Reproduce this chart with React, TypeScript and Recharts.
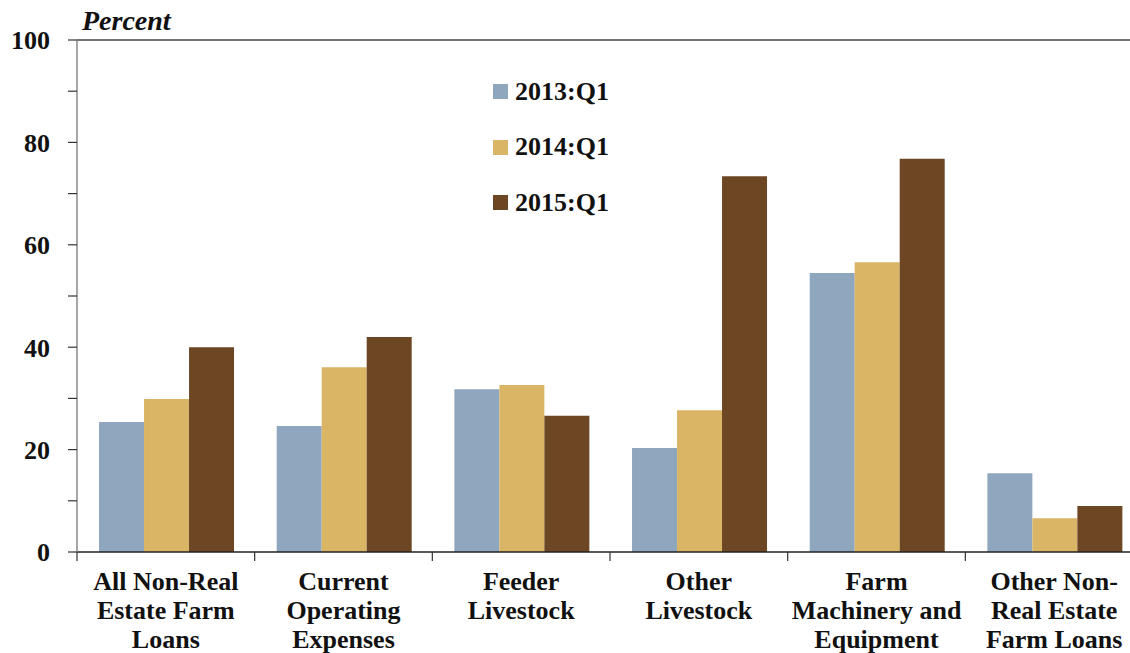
import React from 'react'
import { BarChart, Bar, XAxis, YAxis, ReferenceLine, Legend, Label } from 'recharts'

// category labels, one entry per line of the tick text
const categories = [
  ['All Non-Real', 'Estate Farm', 'Loans'],
  ['Current', 'Operating', 'Expenses'],
  ['Feeder', 'Livestock'],
  ['Other', 'Livestock'],
  ['Farm', 'Machinery and', 'Equipment'],
  ['Other Non-', 'Real Estate', 'Farm Loans'],
]

const q2013 = [25.4, 24.6, 31.8, 20.3, 54.5, 15.4]
const q2014 = [29.9, 36.1, 32.6, 27.7, 56.6, 6.6]
const q2015 = [40.0, 42.0, 26.6, 73.4, 76.8, 9.0]

const seriesNames = ['2013:Q1', '2014:Q1', '2015:Q1']
const seriesKeys = ['q2013', 'q2014', 'q2015']
const colors = ['#8FA6BF', '#D9B565', '#6D4624']

const yTicks = [0, 10, 20, 30, 40, 50, 60, 70, 80, 90, 100]

const FONT = '"Liberation Serif", "Times New Roman", serif'
const CHART_W = 1143
const CHART_H = 653
const Y_W = 77
const X_H = 101
const PLOT_W = CHART_W - Y_W

const data = categories.map((lines, i) => ({
  name: lines.join(' '),
  q2013: q2013[i],
  q2014: q2014[i],
  q2015: q2015[i],
}))

function CategoryTick(props: any) {
  const { x, y, index } = props
  const bw = PLOT_W / categories.length
  const lines = categories[index] || []
  const left = x - bw / 2
  return (
    <g>
      <line x1={left} x2={left} y1={y} y2={y + 9} stroke="#333" strokeWidth={1.2} />
      {index === categories.length - 1 && (
        <line x1={left + bw} x2={left + bw} y1={y} y2={y + 9} stroke="#333" strokeWidth={1.2} />
      )}
      <text
        x={x}
        y={y}
        textAnchor="middle"
        fontFamily={FONT}
        fontWeight="bold"
        fontSize={26}
        fill="#111"
      >
        {lines.map((l, i) => (
          <tspan key={i} x={x} y={y + 38 + i * 29}>
            {l}
          </tspan>
        ))}
      </text>
    </g>
  )
}

function PercentTick(props: any) {
  const { x, y, payload } = props
  if (payload.value % 20 !== 0) return null
  return (
    <text
      x={x}
      y={y}
      dy="0.36em"
      textAnchor="end"
      fontFamily={FONT}
      fontWeight="bold"
      fontSize={26}
      fill="#111"
    >
      {payload.value}
    </text>
  )
}

function LegendBlock() {
  return (
    <div style={{ fontFamily: FONT, fontWeight: 'bold', fontSize: 26, color: '#111' }}>
      {seriesNames.map((n, i) => (
        <div
          key={n}
          style={{ display: 'flex', alignItems: 'center', height: 55.5, lineHeight: '26px' }}
        >
          <span
            style={{
              display: 'inline-block',
              width: 15,
              height: 15,
              background: colors[i],
              marginRight: 7,
            }}
          />
          <span>{n}</span>
        </div>
      ))}
    </div>
  )
}

export default function App() {
  return (
    <div
      style={{
        position: 'absolute',
        left: 0,
        top: 0,
        width: 1130,
        height: CHART_H,
        overflow: 'hidden',
        background: '#fff',
      }}
    >
      <BarChart
        width={CHART_W}
        height={CHART_H}
        data={data}
        margin={{ top: 40, right: 0, left: 0, bottom: 0 }}
        barGap={0}
        barCategoryGap="12.4%"
      >
        <XAxis
          dataKey="name"
          height={X_H}
          interval={0}
          tickLine={false}
          tickSize={0}
          tickMargin={0}
          axisLine={{ stroke: '#222', strokeWidth: 1.5 }}
          tick={<CategoryTick />}
        />
        <YAxis
          width={Y_W}
          domain={[0, 100]}
          ticks={yTicks}
          interval={0}
          tickSize={9}
          tickMargin={18}
          axisLine={{ stroke: '#8a8a8a', strokeWidth: 1.5 }}
          tickLine={{ stroke: '#333', strokeWidth: 1.2 }}
          tick={<PercentTick />}
        >
          <Label
            content={() => (
              <text
                x={82}
                y={30}
                fontFamily={FONT}
                fontWeight="bold"
                fontStyle="italic"
                fontSize={28}
                fill="#111"
              >
                Percent
              </text>
            )}
          />
        </YAxis>
        <ReferenceLine y={100} stroke="#444" strokeWidth={1.5} ifOverflow="visible" />
        {seriesKeys.map((k, i) => (
          <Bar key={k} dataKey={k} name={seriesNames[i]} fill={colors[i]} isAnimationActive={false} />
        ))}
        <Legend
          layout="vertical"
          verticalAlign="middle"
          align="center"
          content={() => <LegendBlock />}
          wrapperStyle={{ position: 'absolute', left: 493, top: 64, width: 160, height: 170 }}
        />
      </BarChart>
    </div>
  )
}
